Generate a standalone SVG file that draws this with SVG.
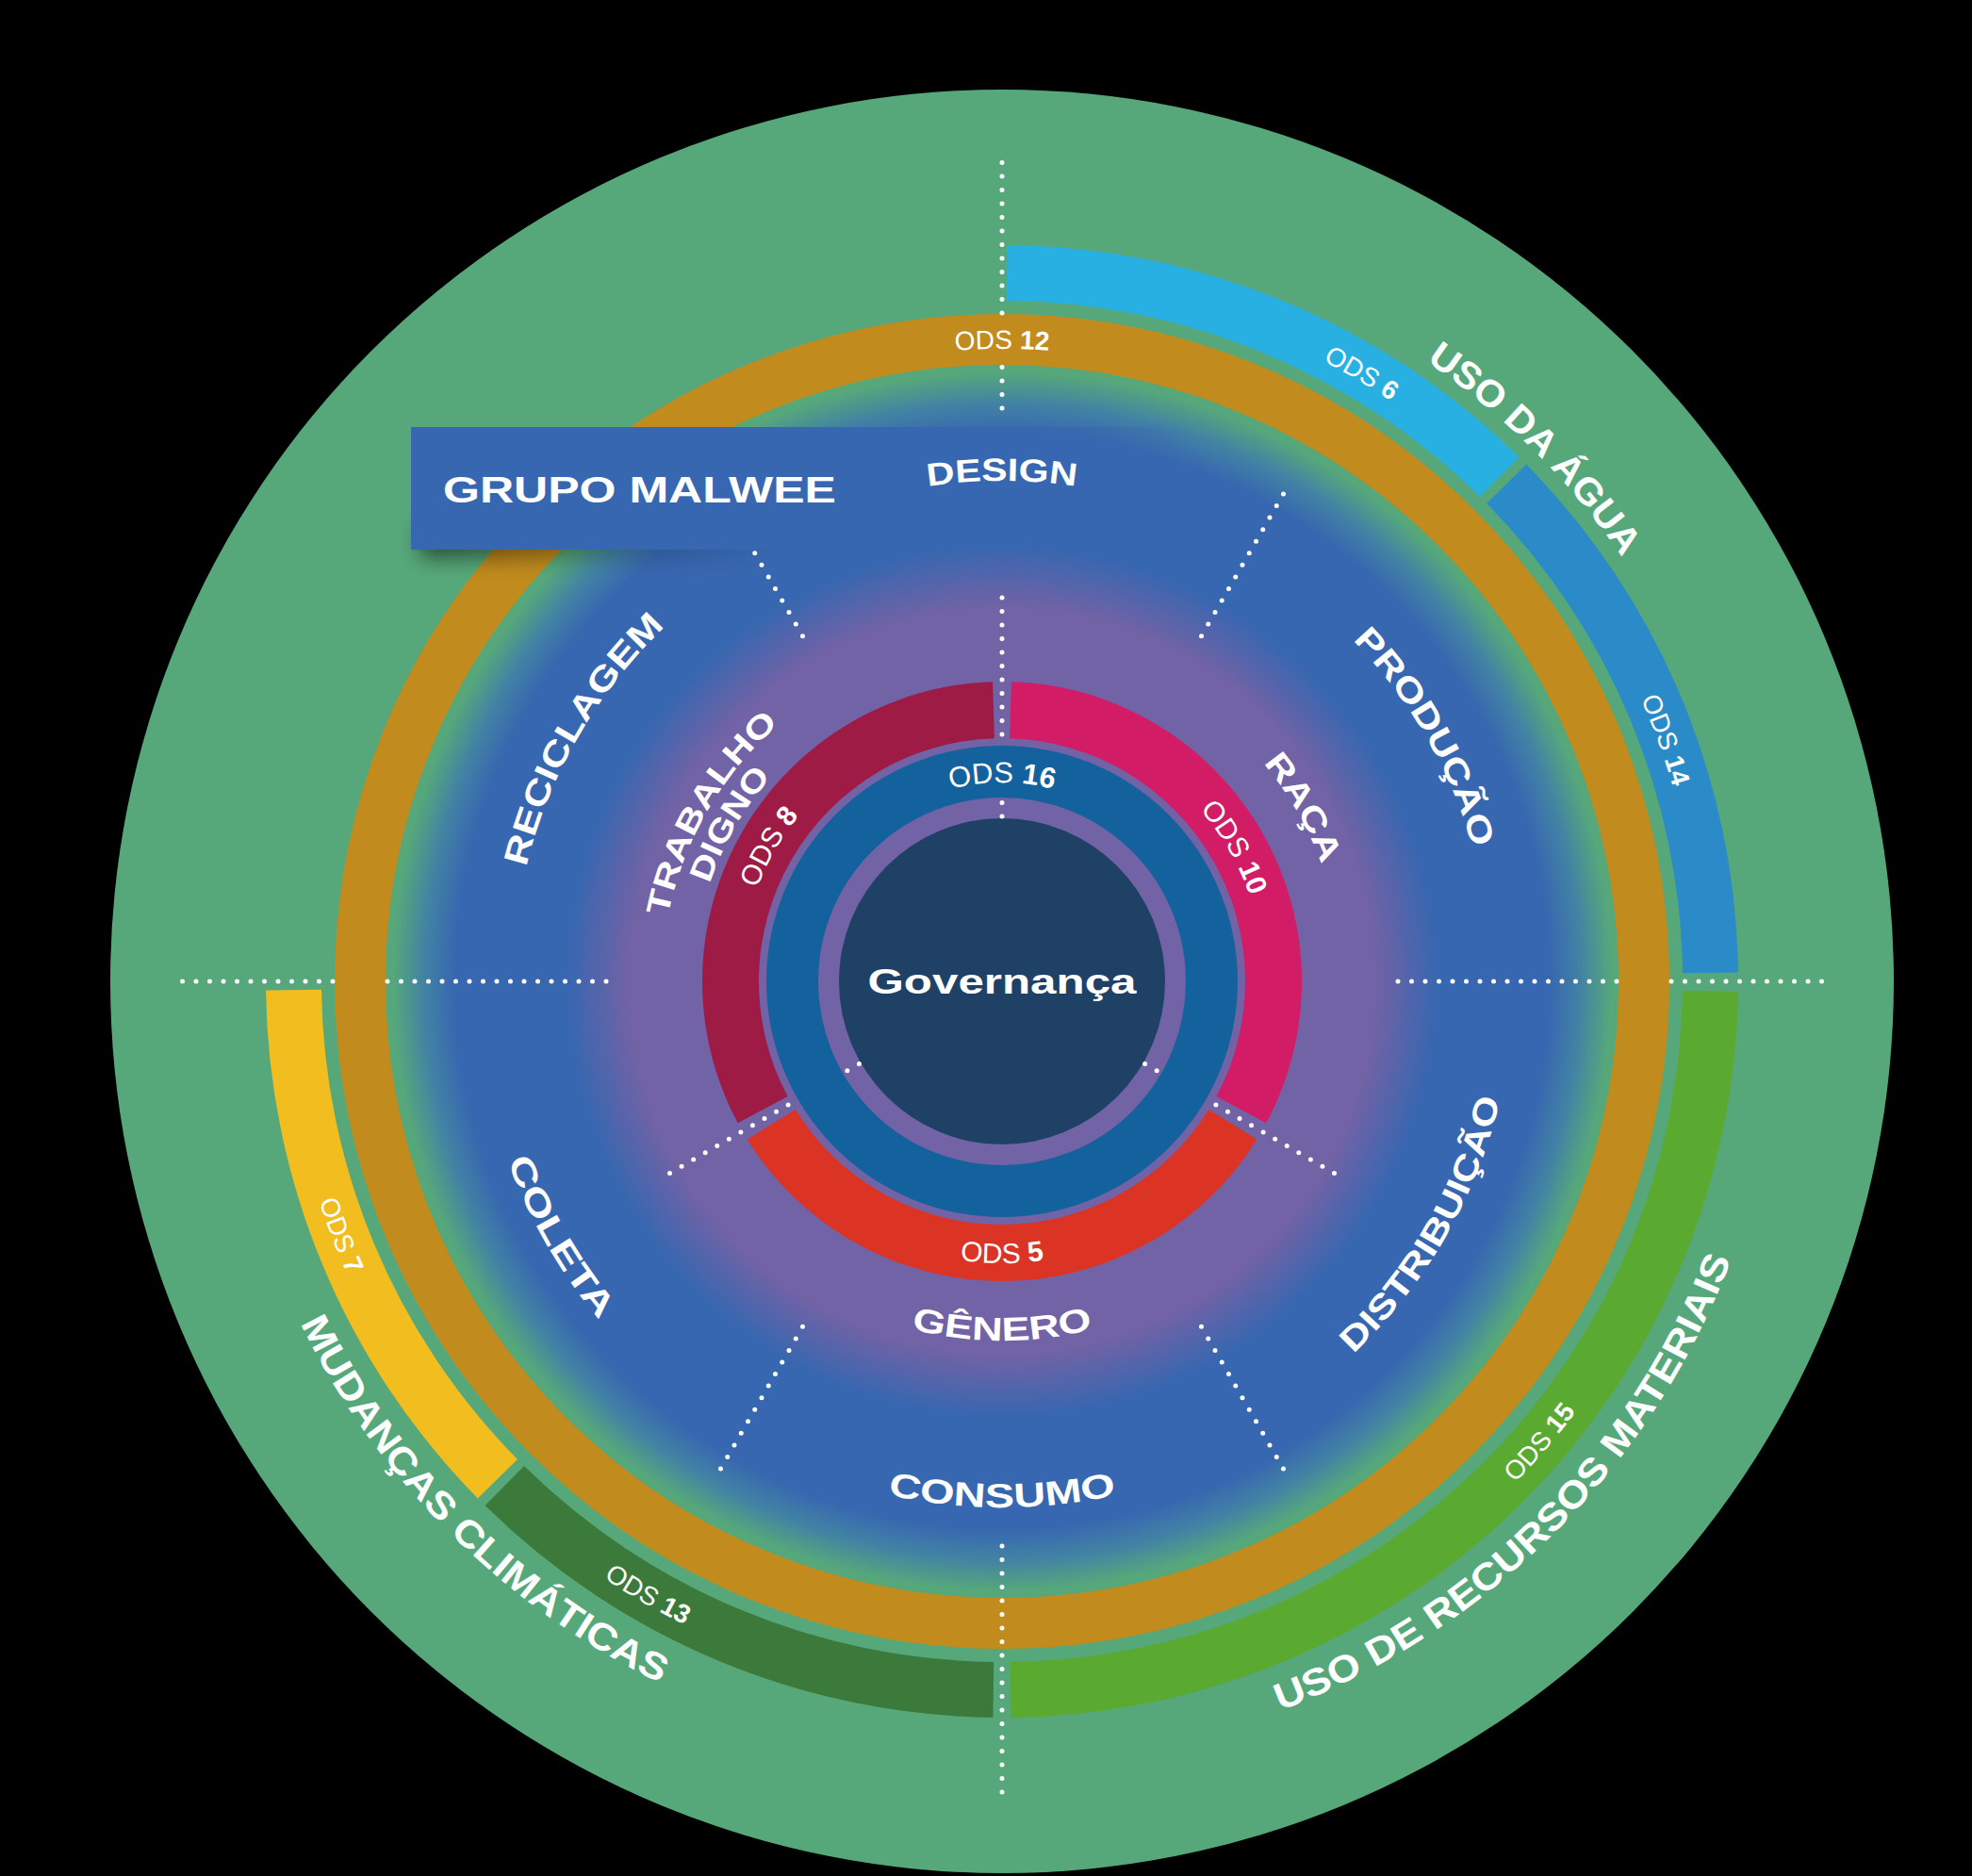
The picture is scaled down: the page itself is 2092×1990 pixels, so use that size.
<svg xmlns="http://www.w3.org/2000/svg" width="2092" height="1990" viewBox="0 0 2092 1990">
<defs>
<style>
.lbl{font-family:"Liberation Sans",Arial,sans-serif;font-weight:700;fill:#fff;text-anchor:middle}
.ods{font-family:"Liberation Sans",Arial,sans-serif;font-weight:400;fill:#fff;font-size:28px;text-anchor:middle}
.n{font-weight:700}
.dots{fill:none;stroke:#fff;stroke-width:5;stroke-linecap:round;stroke-dasharray:0 14.5}
</style>
<radialGradient id="disk" gradientUnits="userSpaceOnUse" cx="1063" cy="1041" r="660">
<stop offset="0" stop-color="#7262a6"/>
<stop offset="0.6" stop-color="#7262a6"/>
<stop offset="0.7" stop-color="#3767b0"/>
<stop offset="0.88" stop-color="#3767b0"/>
<stop offset="0.93" stop-color="#4283a4"/>
<stop offset="0.98" stop-color="#56a87a"/>
<stop offset="1" stop-color="#56a87a"/>
</radialGradient>
<linearGradient id="boxfade" gradientUnits="userSpaceOnUse" x1="1080" y1="0" x2="1267" y2="0">
<stop offset="0" stop-color="#3767b0" stop-opacity="1"/>
<stop offset="1" stop-color="#3767b0" stop-opacity="0"/>
</linearGradient>
<linearGradient id="shadowfade" gradientUnits="userSpaceOnUse" x1="446" y1="0" x2="820" y2="0">
<stop offset="0" stop-color="#000" stop-opacity="0.55"/>
<stop offset="1" stop-color="#000" stop-opacity="0"/>
</linearGradient>
<filter id="blur" x="-20%" y="-100%" width="140%" height="300%">
<feGaussianBlur stdDeviation="11"/>
</filter>
<path id="cw211" d="M 855.21 1004.36 A 211 211 0 0 1 1270.79 1004.36"/>
<path id="cw278" d="M 789.22 992.73 A 278 278 0 0 1 1336.78 992.73"/>
<path id="cw327" d="M 740.97 984.22 A 327 327 0 0 1 1385.03 984.22"/>
<path id="cw361" d="M 707.48 978.31 A 361 361 0 0 1 1418.52 978.31"/>
<path id="cw519" d="M 551.88 950.88 A 519 519 0 0 1 1574.12 950.88"/>
<path id="cw531" d="M 540.07 948.79 A 531 531 0 0 1 1585.93 948.79"/>
<path id="cw671" d="M 402.19 924.48 A 671 671 0 0 1 1723.81 924.48"/>
<path id="cw741" d="M 333.26 912.33 A 741 741 0 0 1 1792.74 912.33"/>
<path id="cw797" d="M 278.11 902.60 A 797 797 0 0 1 1847.89 902.60"/>
<path id="ccw299" d="M 768.54 1092.92 A 299 299 0 0 0 1357.46 1092.92"/>
<path id="ccw381" d="M 687.79 1107.16 A 381 381 0 0 0 1438.21 1107.16"/>
<path id="ccw543" d="M 528.25 1135.29 A 543 543 0 0 0 1597.75 1135.29"/>
<path id="ccw558" d="M 513.48 1137.90 A 558 558 0 0 0 1612.52 1137.90"/>
<path id="ccw761" d="M 313.56 1173.15 A 761 761 0 0 0 1812.44 1173.15"/>
<path id="ccw828" d="M 247.58 1184.78 A 828 828 0 0 0 1878.42 1184.78"/>
</defs>

<rect x="0" y="0" width="2092" height="1990" fill="#000"/>

<g id="background">
<circle cx="1063" cy="1041" r="946" fill="#56a87a"/>
<circle cx="1063" cy="1041" r="660" fill="url(#disk)"/>
</g>

<g id="ods12">
<circle cx="1063" cy="1041" r="681" fill="none" stroke="#c18b1d" stroke-width="54"/>
<text class="ods"><textPath href="#cw671" startOffset="50%">ODS <tspan class="n">12</tspan></textPath></text>
</g>

<g id="ods6">
<path d="M 1068.45 260.02 A 781 781 0 0 1 1611.38 484.90 L 1569.95 526.91 A 722 722 0 0 0 1068.04 319.0 Z" fill="#29b0e3"/>
<text class="ods" transform="rotate(30.6 1063 1041)"><textPath href="#cw741" startOffset="50%">ODS <tspan class="n">6</tspan></textPath></text>
</g>

<g id="ods14">
<path d="M 1619.10 492.62 A 781 781 0 0 1 1843.94 1031.46 L 1784.95 1032.18 A 722 722 0 0 0 1577.09 534.05 Z" fill="#2a8bc8"/>
<text class="ods" transform="rotate(70 1063 1041)"><textPath href="#cw741" startOffset="50%">ODS <tspan class="n">14</tspan></textPath></text>
</g>

<g id="ods15">
<path d="M 1843.92 1051.90 A 781 781 0 0 1 1072.54 1821.94 L 1071.82 1762.95 A 722 722 0 0 0 1784.93 1051.08 Z" fill="#5aaa32"/>
<text class="ods" transform="rotate(-49.4 1063 1041)"><textPath href="#ccw761" startOffset="50%">ODS <tspan class="n">15</tspan></textPath></text>
</g>

<g id="ods13">
<path d="M 1053.46 1821.94 A 781 781 0 0 1 514.62 1597.10 L 556.05 1555.09 A 722 722 0 0 0 1054.18 1762.95 Z" fill="#3c7a3b"/>
<text class="ods" transform="rotate(30 1063 1041)"><textPath href="#ccw761" startOffset="50%">ODS <tspan class="n">13</tspan></textPath></text>
</g>

<g id="ods7">
<path d="M 506.90 1589.38 A 781 781 0 0 1 282.06 1050.54 L 341.05 1049.82 A 722 722 0 0 0 548.91 1547.95 Z" fill="#f1bd1f"/>
<text class="ods" transform="rotate(69 1063 1041)"><textPath href="#ccw761" startOffset="50%">ODS <tspan class="n">7</tspan></textPath></text>
</g>

<g id="ods10">
<path d="M 1072.99 723.16 A 318 318 0 0 1 1343.25 1191.27 L 1290.38 1162.92 A 258 258 0 0 0 1071.10 783.13 Z" fill="#d31c66"/>
<text class="ods" style="font-size:30px" transform="rotate(60 1063 1041)"><textPath href="#cw278" startOffset="50%">ODS <tspan class="n">10</tspan></textPath></text>
</g>

<g id="ods5">
<path d="M 1333.27 1208.57 A 318 318 0 0 1 792.73 1208.57 L 843.73 1176.96 A 258 258 0 0 0 1282.27 1176.96 Z" fill="#dc3424"/>
<text class="ods" style="font-size:30px"><textPath href="#ccw299" startOffset="50%">ODS <tspan class="n">5</tspan></textPath></text>
</g>

<g id="ods8">
<path d="M 782.75 1191.27 A 318 318 0 0 1 1053.01 723.16 L 1054.90 783.13 A 258 258 0 0 0 835.62 1162.92 Z" fill="#9e1b45"/>
<text class="ods" style="font-size:30px" transform="rotate(-60 1063 1041)"><textPath href="#cw278" startOffset="50%">ODS <tspan class="n">8</tspan></textPath></text>
</g>

<g id="ods16">
<circle cx="1063" cy="1041" r="222.5" fill="none" stroke="#13629d" stroke-width="55"/>
<text class="ods" style="font-size:31px"><textPath href="#cw211" startOffset="50%">ODS <tspan class="n">16</tspan></textPath></text>
</g>

<g id="governanca">
<circle cx="1063" cy="1041" r="173" fill="#1f4166"/>
<text class="lbl" x="1063" y="1054" font-size="36" textLength="285" lengthAdjust="spacingAndGlyphs">Governança</text>
</g>

<g id="connectors">
<path class="dots" d="M 1063 779 L 1063 620"/>
<path class="dots" d="M 1063 866 L 1063 851"/>
<path class="dots" d="M 1063 433 L 1063 388"/>
<path class="dots" d="M 1063 332 L 1063 171"/>
<path class="dots" d="M 1063 1640 L 1063 1907"/>
<path class="dots" d="M 1483 1041 L 1717 1041"/>
<path class="dots" d="M 1773 1041 L 1933 1041"/>
<path class="dots" d="M 643 1041 L 409 1041"/>
<path class="dots" d="M 353 1041 L 193 1041"/>
<path class="dots" d="M 1274.5 674.67 L 1368 512.72"/>
<path class="dots" d="M 851.5 674.67 L 758 512.72"/>
<path class="dots" d="M 1274.5 1407.33 L 1368 1569.28"/>
<path class="dots" d="M 851.5 1407.33 L 758 1569.28"/>
<path class="dots" d="M 1289.9 1172 L 1426.7 1251"/>
<path class="dots" d="M 836.1 1172 L 699.3 1251"/>
<path class="dots" d="M 1214.6 1128.5 L 1229.3 1137"/>
<path class="dots" d="M 911.4 1128.5 L 896.7 1137"/>
</g>

<g id="grupo-malwee">
<rect x="446" y="556" width="380" height="36" fill="url(#shadowfade)" filter="url(#blur)"/>
<rect x="436" y="453" width="831" height="130" fill="url(#boxfade)"/>
<text class="lbl" x="470" y="533" font-size="39" style="text-anchor:start" textLength="417" lengthAdjust="spacingAndGlyphs">GRUPO MALWEE</text>
</g>

<g id="design"><text class="lbl" font-size="34"><textPath href="#cw531" startOffset="50%" textLength="158" lengthAdjust="spacingAndGlyphs">DESIGN</textPath></text></g>
<g id="producao"><text class="lbl" font-size="36" transform="rotate(60 1063 1041)"><textPath href="#cw519" startOffset="50%" textLength="258" lengthAdjust="spacingAndGlyphs">PRODUÇÃO</textPath></text></g>
<g id="reciclagem"><text class="lbl" font-size="36" transform="rotate(-60 1063 1041)"><textPath href="#cw519" startOffset="50%" textLength="299" lengthAdjust="spacingAndGlyphs">RECICLAGEM</textPath></text></g>
<g id="distribuicao"><text class="lbl" font-size="36" transform="rotate(-60 1063 1041)"><textPath href="#ccw543" startOffset="50%" textLength="316" lengthAdjust="spacingAndGlyphs">DISTRIBUIÇÃO</textPath></text></g>
<g id="consumo"><text class="lbl" font-size="36"><textPath href="#ccw558" startOffset="50%" textLength="245" lengthAdjust="spacingAndGlyphs">CONSUMO</textPath></text></g>
<g id="coleta"><text class="lbl" font-size="36" transform="rotate(60 1063 1041)"><textPath href="#ccw558" startOffset="50%" textLength="196" lengthAdjust="spacingAndGlyphs">COLETA</textPath></text></g>
<g id="genero"><text class="lbl" font-size="35"><textPath href="#ccw381" startOffset="50%" textLength="195" lengthAdjust="spacingAndGlyphs">GÊNERO</textPath></text></g>
<g id="raca"><text class="lbl" font-size="35" transform="rotate(60 1063 1041)"><textPath href="#cw361" startOffset="50%" textLength="125" lengthAdjust="spacingAndGlyphs">RAÇA</textPath></text></g>
<g id="trabalho-digno">
<text class="lbl" font-size="34" transform="rotate(-60 1063 1041)"><textPath href="#cw361" startOffset="50%" textLength="240" lengthAdjust="spacingAndGlyphs">TRABALHO</textPath></text>
<text class="lbl" font-size="34" transform="rotate(-60 1063 1041)"><textPath href="#cw327" startOffset="50%" textLength="132" lengthAdjust="spacingAndGlyphs">DIGNO</textPath></text>
</g>
<g id="uso-da-agua"><text class="lbl" font-size="40" transform="rotate(45 1063 1041)"><textPath href="#cw797" startOffset="50%" textLength="296" lengthAdjust="spacingAndGlyphs">USO DA ÁGUA</textPath></text></g>
<g id="mudancas-climaticas"><text class="lbl" font-size="40" transform="rotate(45 1063 1041)"><textPath href="#ccw828" startOffset="50%" textLength="550" lengthAdjust="spacingAndGlyphs">MUDANÇAS CLIMÁTICAS</textPath></text></g>
<g id="uso-de-recursos"><text class="lbl" font-size="40" transform="rotate(-45 1063 1041)"><textPath href="#ccw828" startOffset="50%" textLength="697" lengthAdjust="spacingAndGlyphs">USO DE RECURSOS MATERIAIS</textPath></text></g>
</svg>
